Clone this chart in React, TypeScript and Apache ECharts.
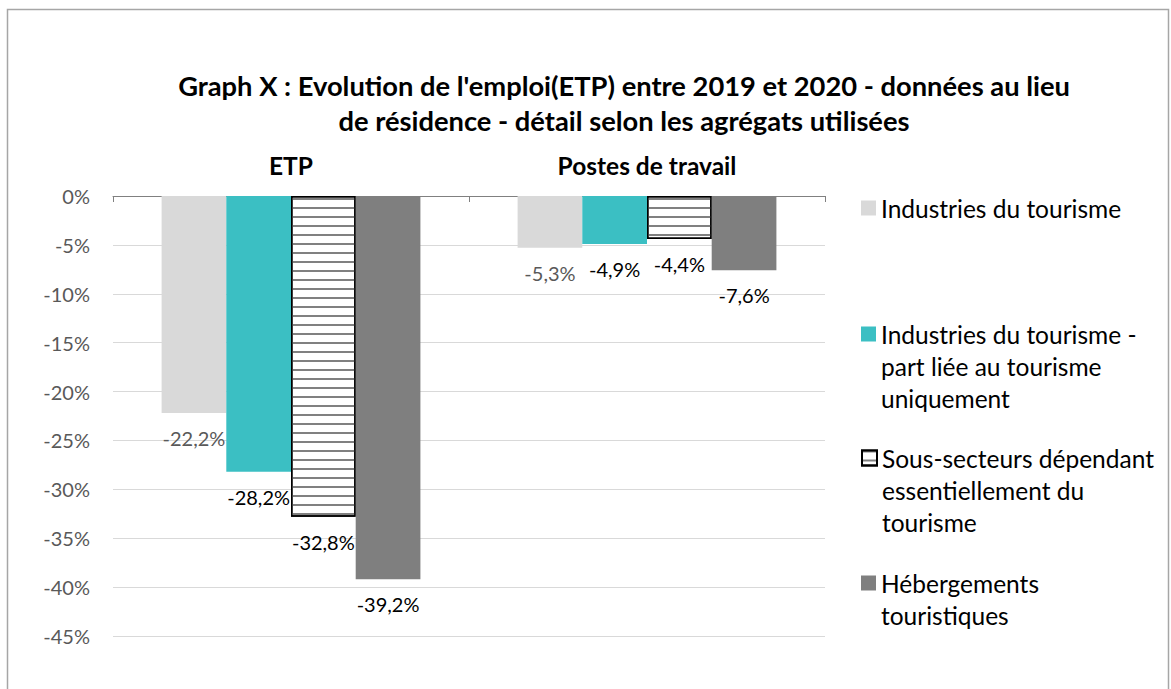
import React, { useEffect, useRef } from "react";
import * as echarts from "echarts";

const categories = ["ETP", "Postes de travail"];
const seriesNames = [
  "Industries du tourisme",
  "Industries du tourisme - part liée au tourisme uniquement",
  "Sous-secteurs dépendant essentiellement du tourisme",
  "Hébergements touristiques",
];
const legendLabels = [
  "Industries du tourisme",
  "Industries du tourisme -\npart liée au tourisme\nuniquement",
  "Sous-secteurs dépendant\nessentiellement du\ntourisme",
  "Hébergements\ntouristiques",
];
const industries = [-22.2, -5.3];
const partTourisme = [-28.2, -4.9];
const sousSecteurs = [-32.8, -4.4];
const hebergements = [-39.2, -7.6];
const yMin = -45;
const yMax = 0;
const yStep = 5;

const FONT = "Lato";
const titleText =
  "Graph X : Evolution de l'emploi(ETP) entre 2019 et 2020 - données au lieu\nde résidence - détail selon les agrégats utilisées";

const fmt = (v: number) => v.toFixed(1).replace(".", ",") + "%";

export default function App() {
  const ref = useRef<HTMLDivElement>(null);
  useEffect(() => {
    if (!ref.current) return;
    const chart = echarts.init(ref.current, undefined, { renderer: "svg" });
    const legendCenters = [208, 334, 458, 583];
    const LH = 32;
    const legends = seriesNames.map((name, i) => {
      const n = legendLabels[i].split("\n").length;
      // blank lines above keep the icon aligned with the first text line
      const padded = "\n".repeat(n - 1) + legendLabels[i];
      return {
        data: [name],
        left: 861,
        top: legendCenters[i] - ((2 * n - 1) * LH) / 2,
        orient: "vertical",
        padding: 0,
        icon: "rect",
        itemWidth: 15,
        itemHeight: 15,
        formatter: () => padded,
        selectedMode: false,
        textStyle: {
          fontFamily: FONT,
          fontSize: 24.5,
          lineHeight: LH,
          color: "#000",
        },
      };
    });
    const labelStyle = (color: string) => ({
      show: true,
      position: "bottom",
      distance: 13,
      formatter: (p: any) => fmt(p.value),
      fontFamily: FONT,
      fontSize: 20,
      lineHeight: 24,
      color,
    });
    const data = [industries, partTourisme, sousSecteurs, hebergements];
    const colors = ["#D9D9D9", "#3BBFC3", "#FFFFFF", "#7F7F7F"];
    const labelColors = ["#595959", "#000", "#000", "#000"];
    chart.setOption({
      animation: false,
      backgroundColor: "#fff",
      title: {
        text: titleText,
        left: 624,
        top: 68,
        textAlign: "center",
        padding: 0,
        textStyle: {
          fontFamily: FONT,
          fontWeight: "bold",
          fontSize: 27.3,
          lineHeight: 35,
          color: "#000",
        },
      },
      legend: legends,
      grid: { left: 113, right: 346, top: 196, bottom: 53 },
      xAxis: {
        type: "category",
        position: "top",
        data: categories,
        axisLine: { lineStyle: { color: "#808080", width: 1 } },
        axisTick: { show: true, inside: true, length: 6, lineStyle: { color: "#808080" } },
        axisLabel: {
          fontFamily: FONT,
          fontWeight: "bold",
          fontSize: 24.5,
          lineHeight: 26,
          color: "#000",
          margin: 18,
        },
      },
      yAxis: {
        type: "value",
        min: yMin,
        max: yMax,
        interval: yStep,
        axisLine: { show: false },
        axisTick: { show: false },
        axisLabel: {
          formatter: "{value}%",
          fontFamily: FONT,
          fontSize: 20,
          color: "#595959",
          margin: 23,
        },
        splitLine: { lineStyle: { color: "#D9D9D9", width: 1 } },
      },
      series: seriesNames.map((name, i) => ({
        name,
        type: "bar",
        data: data[i],
        barGap: "0%",
        barCategoryGap: "27.3%",
        itemStyle:
          i === 2
            ? {
                color: "#FFFFFF",
                borderColor: "#000",
                borderWidth: 1.5,
                decal: {
                  symbol: "rect",
                  symbolSize: 1,
                  color: "#808080",
                  dashArrayX: [1, 0],
                  dashArrayY: [2, 6.5],
                  rotation: 0,
                },
              }
            : { color: colors[i] },
        label: labelStyle(labelColors[i]),
      })),
      graphic: [
        {
          type: "rect",
          shape: { x: 7.5, y: 9.5, width: 1161, height: 720 },
          style: { fill: "none", stroke: "#A6A6A6", lineWidth: 1.5 },
          silent: true,
        },
      ],
    });
    return () => chart.dispose();
  }, []);
  return (
    <div
      ref={ref}
      style={{ position: "absolute", left: 0, top: 0, width: 1171, height: 689 }}
    />
  );
}
